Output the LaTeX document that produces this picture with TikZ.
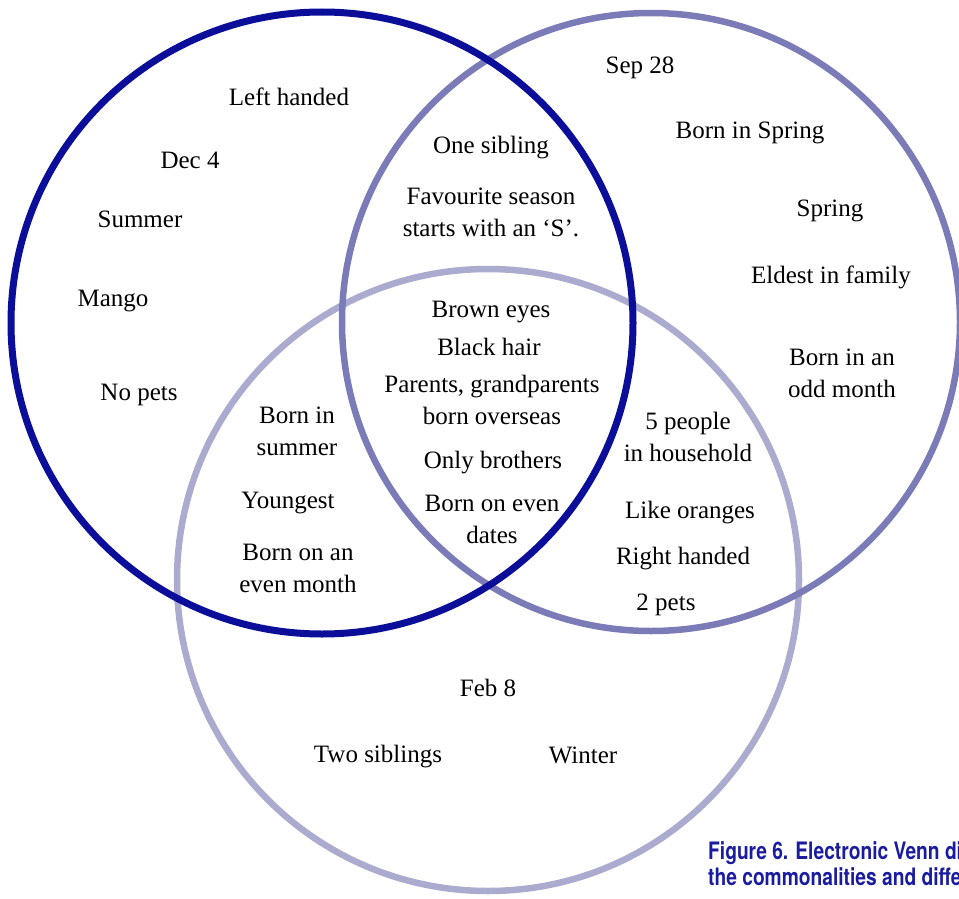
\documentclass[tikz,border=0pt]{standalone}
\usepackage{fontspec}
\setmainfont{Liberation Serif}
\newfontfamily\capfont[FakeStretch=0.8]{TeX Gyre Heros}
\definecolor{cdark}{HTML}{0B0E98}
\definecolor{cmed}{HTML}{7B7BB8}
\definecolor{clight}{HTML}{ABABD0}
\definecolor{ccap}{HTML}{1A1CA0}
\tikzset{
  lbl/.style={anchor=base, align=center, inner sep=0pt, font=\fontsize{25}{31.5}\selectfont, text=black},
  ring/.style={line width=6.5pt},
  captext/.style={anchor=base west, inner sep=0pt, font=\capfont\bfseries\fontsize{24}{26}\selectfont, text=ccap}
}
\begin{document}
\begin{tikzpicture}[x=1pt,y=-1pt]
\useasboundingbox (0,0) rectangle (959,899);
\begin{scope}
\clip (0,0) rectangle (959,899);
\draw[ring, clight] (488,580) circle[radius=311] coordinate (cB);
\draw[ring, cmed] (651,322) circle[radius=309] coordinate (cR);
\draw[ring, cdark, line width=7pt] (322,323) circle[radius=311] coordinate (cL);

% left only
\node[lbl] (lh) at (289,106) {Left handed};
\node[lbl] (dec) at (190,168) {Dec 4};
\node[lbl] (sum) at (140,227) {Summer};
\node[lbl] (man) at (113,306) {Mango};
\node[lbl] (nop) at (139,400) {No pets};
% left-right
\node[lbl] (one) at (491,153) {One sibling};
\node[lbl] (fav) at (491,236) {Favourite season\\starts with an ‘S’.};
% right only
\node[lbl] (sep) at (640,74) {Sep 28};
\node[lbl] (bis) at (750,138) {Born in Spring};
\node[lbl] (spr) at (830,216) {Spring};
\node[lbl] (eld) at (831,283) {Eldest in family};
\node[lbl] (odd) at (842,397) {Born in an\\odd month};
% centre
\node[lbl] (bro) at (491,317) {Brown eyes};
\node[lbl] (bla) at (489,355) {Black hair};
\node[lbl] (par) at (492,424) {Parents, grandparents\\born overseas};
\node[lbl] (onl) at (493,468) {Only brothers};
\node[lbl] (eve) at (492,543) {Born on even\\dates};
% left-bottom
\node[lbl] (bsu) at (297,455) {Born in\\summer};
\node[lbl] (you) at (288,508) {Youngest};
\node[lbl] (bem) at (298,592) {Born on an\\even month};
% right-bottom
\node[lbl] (five) at (688,461) {5 people\\in household};
\node[lbl] (lik) at (690,518) {Like oranges};
\node[lbl] (rig) at (683,564) {Right handed};
\node[lbl] (two) at (666,610) {2 pets};
% bottom only
\node[lbl] (feb) at (488,696) {Feb 8};
\node[lbl] (tsi) at (378,762) {Two siblings};
\node[lbl] (win) at (583,763) {Winter};
% caption
\node[captext] (c1) at (708,859) {Figure 6. Electronic Venn di};
\node[captext] (c2) at (708,885) {the commonalities and diffe};
\end{scope}
\end{tikzpicture}
\end{document}
